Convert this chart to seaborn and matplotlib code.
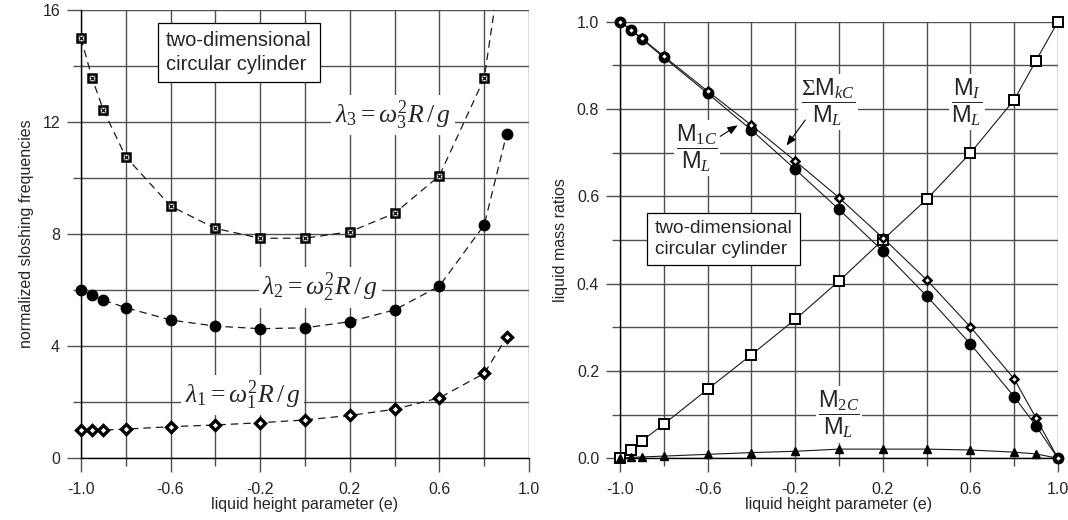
import numpy as np
import pandas as pd
import seaborn as sns
import matplotlib.pyplot as plt
from matplotlib.ticker import FixedLocator, FormatStrFormatter

# left panel: normalized sloshing frequencies vs liquid height parameter e
e_left = [-1.0, -0.95, -0.9, -0.8, -0.6, -0.4, -0.2, 0.0, 0.2, 0.4, 0.6, 0.8, 0.9]
lam1 = [1.00, 1.00, 1.00, 1.03, 1.12, 1.18, 1.26, 1.36, 1.52, 1.74, 2.15, 3.02, 4.31]
lam2 = [6.00, 5.82, 5.64, 5.37, 4.93, 4.71, 4.62, 4.65, 4.87, 5.29, 6.14, 8.32, 11.56]
e_lam3 = [-1.0, -0.95, -0.9, -0.8, -0.6, -0.4, -0.2, 0.0, 0.2, 0.4, 0.6, 0.8]
lam3 = [15.0, 13.56, 12.43, 10.76, 9.00, 8.20, 7.85, 7.85, 8.08, 8.74, 10.08, 13.56]
# dashed lambda3 curve leaves the top of the chart here
lam3_tail_e = [0.845]
lam3_tail = [16.0]

# right panel: liquid mass ratios
e_right = [-1.0, -0.95, -0.9, -0.8, -0.6, -0.4, -0.2, 0.0, 0.2, 0.4, 0.6, 0.8, 0.9, 1.0]
m_i = [0.0, 0.019, 0.040, 0.078, 0.158, 0.237, 0.318, 0.406, 0.500, 0.593, 0.699, 0.821, 0.911, 1.0]
m_1c = [1.0, 0.981, 0.960, 0.918, 0.836, 0.752, 0.662, 0.570, 0.475, 0.372, 0.262, 0.141, 0.074, 0.0]
m_sum = [1.0, 0.982, 0.962, 0.921, 0.841, 0.763, 0.681, 0.597, 0.505, 0.409, 0.301, 0.182, 0.092, 0.0]
m_2c = [0.0, 0.002, 0.003, 0.005, 0.009, 0.013, 0.016, 0.021, 0.021, 0.021, 0.019, 0.014, 0.010, 0.0]

x_major = [-1.0, -0.6, -0.2, 0.2, 0.6, 1.0]
x_minor = [-0.8, -0.4, 0.0, 0.4, 0.8]

sns.set_theme(style='white')
plt.rcParams['font.family'] = ['Liberation Sans', 'DejaVu Sans']
plt.rcParams['mathtext.fontset'] = 'custom'
plt.rcParams['mathtext.rm'] = 'Liberation Serif'
plt.rcParams['mathtext.it'] = 'Liberation Serif:italic'
plt.rcParams['mathtext.sf'] = 'Liberation Sans'
plt.rcParams['mathtext.fallback'] = 'stix'

grid_c = '#505050'
fig = plt.figure(figsize=(10.68, 5.2), dpi=100)
axL = fig.add_axes([0.0758, 0.1192, 0.4195, 0.8615])
axR = fig.add_axes([0.5805, 0.1187, 0.4101, 0.8396])


def style_axes(ax, ymaj, yminor, yfmt):
    ax.set_xlim(-1.0, 1.0)
    ax.xaxis.set_major_locator(FixedLocator(x_major))
    ax.xaxis.set_minor_locator(FixedLocator(x_minor))
    ax.xaxis.set_major_formatter(FormatStrFormatter('%.1f'))
    ax.yaxis.set_major_locator(FixedLocator(ymaj))
    ax.yaxis.set_minor_locator(FixedLocator(yminor))
    ax.yaxis.set_major_formatter(FormatStrFormatter(yfmt))
    ax.grid(True, which='both', color=grid_c, lw=1.0)
    ax.set_axisbelow(True)
    for s in ['top', 'right']:
        ax.spines[s].set_visible(False)
    for s in ['left', 'bottom']:
        ax.spines[s].set_color('black')
        ax.spines[s].set_linewidth(1.0)
    ax.tick_params(which='major', direction='out', length=10, width=1.0,
                   color=grid_c, labelsize=11.5, pad=5, bottom=True, left=True)
    ax.tick_params(axis='x', which='major', pad=7)
    ax.tick_params(which='minor', direction='out', length=5.5, width=1.0,
                   color=grid_c, bottom=True, left=True)
    ax.set_xlabel('liquid height parameter (e)', fontsize=11.5, labelpad=0)
    ax.set_facecolor('white')


# ---- left panel ----
dash = (0, (6, 4))
sns.lineplot(x=e_left, y=lam1, ax=axL, color='k', lw=0.9, linestyle=dash, sort=False)
sns.lineplot(x=e_left, y=lam2, ax=axL, color='k', lw=0.9, linestyle=dash, sort=False)
sns.lineplot(x=e_lam3 + lam3_tail_e, y=lam3 + lam3_tail, ax=axL, color='k', lw=0.9,
             linestyle=dash, sort=False)
axL.plot(e_left, lam1, ls='none', marker='D', ms=5.5, mfc='white', mec='black', mew=2.4,
         clip_on=False, zorder=5)
axL.plot(e_left, lam2, ls='none', marker='o', ms=7.5, color='black', clip_on=False, zorder=5)
axL.plot(e_lam3, lam3, ls='none', marker='s', ms=6.3, mfc='white', mec='black', mew=1.8,
         clip_on=False, zorder=5)
axL.plot(e_lam3, lam3, ls='none', marker='x', ms=3.5, color='black', mew=0.9,
         clip_on=False, zorder=6)
axL.set_ylim(0, 16)
style_axes(axL, [0, 4, 8, 12, 16], [2, 6, 10, 14], '%d')
axL.set_ylabel('normalized sloshing frequencies', fontsize=11.5, labelpad=6)

lbl_box = dict(boxstyle='square,pad=0.15', fc='white', ec='none')
axL.text(0.135, 12.25, r'$\lambda_3 = \omega_3^2 R\,/\,g$', fontsize=18.5, ha='left',
         va='center', bbox=lbl_box, zorder=4)
axL.text(-0.19, 6.1, r'$\lambda_2 = \omega_2^2 R\,/\,g$', fontsize=18.5, ha='left',
         va='center', bbox=lbl_box, zorder=4)
axL.text(-0.535, 2.25, r'$\lambda_1 = \omega_1^2 R\,/\,g$', fontsize=18.5, ha='left',
         va='center', bbox=lbl_box, zorder=4)
axL.text(-0.62, 15.25, 'two-dimensional\ncircular cylinder', fontsize=14.5, ha='left',
         va='top', linespacing=1.3, zorder=7,
         bbox=dict(boxstyle='square,pad=0.4', fc='white', ec='black', lw=0.9))

# ---- right panel ----
for vals in [m_i, m_1c, m_sum, m_2c]:
    sns.lineplot(x=e_right, y=vals, ax=axR, color='k', lw=0.8, sort=False)
axR.plot(e_right, m_i, ls='none', marker='s', ms=6.5, mfc='white', mec='black', mew=1.4,
         clip_on=False, zorder=5)
axR.plot(e_right, m_1c, ls='none', marker='o', ms=7.5, color='black', clip_on=False, zorder=5)
axR.plot(e_right, m_sum, ls='none', marker='D', ms=4.2, mfc='white', mec='black', mew=1.8,
         clip_on=False, zorder=6)
axR.plot(e_right, m_2c, ls='none', marker='^', ms=6, color='black', clip_on=False, zorder=5)
axR.set_ylim(0, 1.0)
style_axes(axR, [0.0, 0.2, 0.4, 0.6, 0.8, 1.0], [0.1, 0.3, 0.5, 0.7, 0.9], '%.1f')
axR.set_ylabel('liquid mass ratios', fontsize=11.5, labelpad=6)

frac_box = dict(boxstyle='square,pad=0.1', fc='white', ec='none')
fs_frac = 17
axR.text(-0.648, 0.711, r'$\dfrac{\mathsf{M}_{1C}}{\mathsf{M}_{L}}$', fontsize=fs_frac,
         ha='center', va='center', bbox=frac_box, zorder=4)
axR.text(-0.05, 0.816, r'$\dfrac{\Sigma\mathsf{M}_{kC}}{\mathsf{M}_{L}}$', fontsize=fs_frac,
         ha='center', va='center', bbox=frac_box, zorder=4)
axR.text(0.584, 0.816, r'$\dfrac{\mathsf{M}_{I}}{\mathsf{M}_{L}}$', fontsize=fs_frac,
         ha='center', va='center', bbox=frac_box, zorder=4)
axR.text(0.0, 0.101, r'$\dfrac{\mathsf{M}_{2C}}{\mathsf{M}_{L}}$', fontsize=fs_frac,
         ha='center', va='center', bbox=frac_box, zorder=4)
arrow = dict(arrowstyle='-|>,head_length=0.5,head_width=0.2', color='black', lw=0.8)
axR.annotate('', xy=(-0.452, 0.766), xytext=(-0.553, 0.734), arrowprops=arrow, zorder=7)
axR.annotate('', xy=(-0.247, 0.711), xytext=(-0.146, 0.780), arrowprops=arrow, zorder=7)
axR.text(-0.84, 0.545, 'two-dimensional\ncircular cylinder', fontsize=13.8, ha='left',
         va='top', linespacing=1.25, zorder=7,
         bbox=dict(boxstyle='square,pad=0.4', fc='white', ec='black', lw=0.9))

fig.savefig('out.png', dpi=100, facecolor='white')
